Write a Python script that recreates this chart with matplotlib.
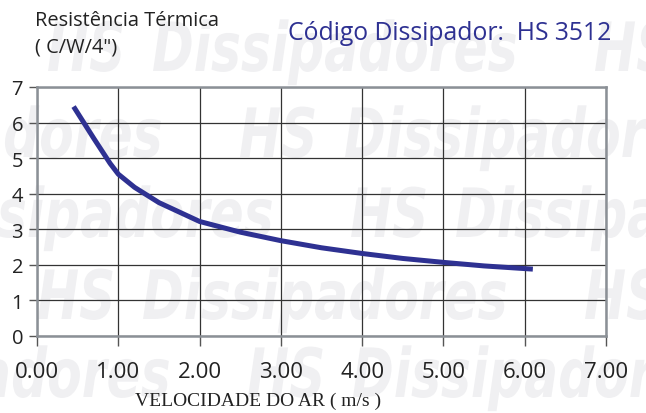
import matplotlib
matplotlib.use("Agg")
import matplotlib.pyplot as plt
from matplotlib.textpath import TextPath
from matplotlib.patches import PathPatch
from matplotlib.font_manager import FontProperties
from matplotlib.transforms import Affine2D, IdentityTransform

# Data
velocidade = [0.45, 0.7, 0.9, 1.0, 1.2, 1.5, 2.0, 2.5, 3.0, 3.5, 4.0, 4.5, 5.0, 5.5, 6.1]
resistencia = [6.45, 5.55, 4.85, 4.55, 4.18, 3.75, 3.22, 2.92, 2.68, 2.48, 2.32, 2.18, 2.07, 1.97, 1.88]
x_ticks = [0, 1, 2, 3, 4, 5, 6, 7]
x_tick_labels = ["0.00", "1.00", "2.00", "3.00", "4.00", "5.00", "6.00", "7.00"]
y_ticks = [0, 1, 2, 3, 4, 5, 6, 7]

W, H = 646, 414
fig = plt.figure(figsize=(W / 100, H / 100), dpi=100)
fig.patch.set_facecolor("white")

# Watermark: "HS Dissipadores" rows (HS start x px, baseline y px from top)
wm_color = "#f0f0f2"
wm_fp = FontProperties(family="DejaVu Sans", weight="bold", style="italic")
wm_size = 68
wm_sx = 0.74
wm_period = 547
wm_rows = [(47, 72), (239, 158), (350, 238), (37, 320), (247, 398)]


def wm_word(text, x, y_top):
    tp = TextPath((0, 0), text, size=wm_size, prop=wm_fp)
    tr = Affine2D().scale(wm_sx, 1).translate(x, H - y_top) + IdentityTransform()
    fig.add_artist(PathPatch(tp, transform=tr, facecolor=wm_color,
                             edgecolor="none", zorder=0))


for x0, yb in wm_rows:
    for k in range(-2, 3):
        xs = x0 + k * wm_period
        wm_word("HS", xs, yb)
        wm_word("Dissipadores", xs + 105, yb)

ax = fig.add_axes([37 / W, 1 - 337 / H, (606 - 37) / W, (337 - 88) / H])
ax.set_facecolor("none")
ax.set_zorder(1)

ax.plot(velocidade, resistencia, color="#2e3192", lw=3.6, solid_capstyle="butt", zorder=3)

ax.set_xlim(0, 7)
ax.set_ylim(0, 7)
ax.set_xticks(x_ticks)
ax.set_xticklabels(x_tick_labels)
ax.set_yticks(y_ticks)
ax.grid(True, color="#333333", lw=0.9)
ax.set_axisbelow(True)

for s in ax.spines.values():
    s.set_color("#8b9096")
    s.set_linewidth(1.8)

for lab in ax.get_xticklabels():
    lab.set_fontfamily(["Open Sans", "DejaVu Sans"])
    lab.set_fontsize(16)
    lab.set_color("#222222")
for lab in ax.get_yticklabels():
    lab.set_fontfamily(["Open Sans", "DejaVu Sans"])
    lab.set_fontsize(14.5)
    lab.set_color("#222222")
ax.tick_params(axis="x", length=7, width=1, color="#555555", pad=11)
ax.tick_params(axis="y", length=6, width=1, color="#555555", pad=4)

fig.text(35 / W, 1 - 21 / H, "Resistência Térmica", fontsize=14.4,
         family=["Open Sans", "DejaVu Sans"], color="#222222", va="center", ha="left")
fig.text(35 / W, 1 - 47 / H, "( C/W/4\")", fontsize=14.4,
         family=["Open Sans", "DejaVu Sans"], color="#222222", va="center", ha="left")
fig.text(288 / W, 1 - 33 / H, "Código Dissipador:  HS 3512", fontsize=17.8,
         family=["Open Sans", "DejaVu Sans"], color="#2e3192", va="center", ha="left")
fig.text(258 / W, 1 - 401 / H, "VELOCIDADE DO AR ( m/s )", fontsize=14,
         family=["Liberation Serif", "DejaVu Serif"], color="#222222", va="center", ha="center")

fig.savefig("out.png", dpi=100)
